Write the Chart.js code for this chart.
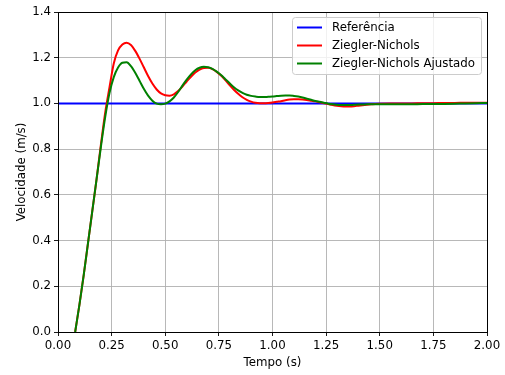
<!DOCTYPE html>
<html>
<head>
<meta charset="utf-8">
<script src="https://cdn.jsdelivr.net/npm/chart.js@4.4.1/dist/chart.umd.min.js"></script>
<style>
  html, body { margin: 0; padding: 0; background: #fff; }
  #wrap { width: 505px; height: 375px; }
</style>
</head>
<body>
<div id="wrap"><canvas id="c" width="505" height="375"></canvas></div>
<script>
// ---- data ----
const tempo = [0.08,0.10,0.12,0.14,0.16,0.18,0.20,0.22,0.24,0.26,0.28,0.30,0.32,0.34,0.36,0.38,0.40,0.42,0.44,0.46,0.48,0.50,0.52,0.54,0.56,0.58,0.60,0.62,0.64,0.66,0.68,0.70,0.72,0.74,0.76,0.78,0.80,0.82,0.84,0.86,0.88,0.90,0.92,0.94,0.96,0.98,1.00,1.02,1.04,1.06,1.08,1.10,1.12,1.14,1.16,1.18,1.20,1.22,1.24,1.26,1.28,1.30,1.32,1.34,1.36,1.38,1.40,1.42,1.44,1.46,1.48,1.50,1.55,1.60,1.65,1.70,1.75,1.80,1.85,1.90,1.95,2.00];
const zieglerNichols = [0.00,0.12,0.25,0.39,0.53,0.67,0.82,0.96,1.07,1.175,1.232,1.258,1.266,1.256,1.230,1.196,1.158,1.120,1.087,1.061,1.044,1.036,1.034,1.040,1.054,1.074,1.096,1.117,1.135,1.148,1.155,1.156,1.150,1.138,1.122,1.102,1.080,1.060,1.042,1.027,1.016,1.008,1.003,1.001,1.001,1.002,1.004,1.007,1.010,1.014,1.017,1.018,1.018,1.017,1.015,1.012,1.009,1.005,1.001,0.997,0.993,0.990,0.988,0.987,0.987,0.988,0.990,0.992,0.994,0.996,0.998,0.999,1.000,1.000,1.000,1.001,1.001,1.002,1.002,1.003,1.003,1.003];
const zieglerNicholsAjustado = [0.00,0.12,0.25,0.39,0.53,0.67,0.81,0.94,1.045,1.115,1.157,1.178,1.180,1.163,1.134,1.099,1.064,1.034,1.012,0.999,0.996,0.999,1.009,1.026,1.050,1.078,1.104,1.127,1.145,1.156,1.160,1.158,1.151,1.139,1.124,1.106,1.088,1.071,1.057,1.046,1.038,1.033,1.030,1.028,1.028,1.029,1.030,1.032,1.034,1.035,1.035,1.033,1.030,1.026,1.021,1.016,1.011,1.007,1.003,0.999,0.996,0.994,0.993,0.993,0.993,0.994,0.995,0.995,0.996,0.996,0.996,0.996,0.996,0.996,0.996,0.997,0.997,0.998,0.999,1.000,1.001,1.002];
const tempoReferencia = [0, 2];
const referencia = [1.0, 1.0];
const labels = ['Referência', 'Ziegler-Nichols', 'Ziegler-Nichols Ajustado'];
const xTicks = [0, 0.25, 0.5, 0.75, 1.0, 1.25, 1.5, 1.75, 2.0];
const yTicks = [0, 0.2, 0.4, 0.6, 0.8, 1.0, 1.2, 1.4];

const pts = (xs, ys) => xs.map((x, i) => ({ x: x, y: ys[i] }));
const FONT = "'DejaVu Sans', sans-serif";
const FS = 11.8;

const framePlugin = {
  id: 'frameLegend',
  afterDatasetsDraw(chart) {
    const ctx = chart.ctx, a = chart.chartArea;
    ctx.save();
    ctx.strokeStyle = '#000';
    ctx.lineWidth = 1;
    ctx.strokeRect(Math.round(a.left) + 0.5, Math.round(a.top) + 0.5,
                   Math.round(a.right) - Math.round(a.left), Math.round(a.bottom) - Math.round(a.top));
    // legend
    const bx = 292.5, by = 17.5, bw = 189, bh = 57, r = 3;
    ctx.beginPath();
    ctx.moveTo(bx + r, by);
    ctx.lineTo(bx + bw - r, by); ctx.quadraticCurveTo(bx + bw, by, bx + bw, by + r);
    ctx.lineTo(bx + bw, by + bh - r); ctx.quadraticCurveTo(bx + bw, by + bh, bx + bw - r, by + bh);
    ctx.lineTo(bx + r, by + bh); ctx.quadraticCurveTo(bx, by + bh, bx, by + bh - r);
    ctx.lineTo(bx, by + r); ctx.quadraticCurveTo(bx, by, bx + r, by);
    ctx.closePath();
    ctx.fillStyle = 'rgba(255,255,255,0.8)';
    ctx.fill();
    ctx.strokeStyle = '#cccccc';
    ctx.stroke();
    ctx.font = FS + 'px ' + FONT;
    ctx.textBaseline = 'middle';
    ctx.textAlign = 'left';
    chart.data.datasets.forEach((ds, i) => {
      const yy = 27.5 + i * 18;
      ctx.strokeStyle = ds.borderColor;
      ctx.lineWidth = 2;
      ctx.beginPath();
      ctx.moveTo(297, yy); ctx.lineTo(322, yy); ctx.stroke();
      ctx.fillStyle = '#000';
      ctx.fillText(ds.label, 332, yy);
    });
    ctx.restore();
  }
};

new Chart(document.getElementById('c'), {
  type: 'line',
  data: {
    datasets: [
      { label: labels[0], data: pts(tempoReferencia, referencia), borderColor: '#0000ff', order: 3 },
      { label: labels[1], data: pts(tempo, zieglerNichols), borderColor: '#ff0000', order: 2 },
      { label: labels[2], data: pts(tempo, zieglerNicholsAjustado), borderColor: '#008000', order: 1 }
    ]
  },
  options: {
    responsive: false,
    animation: false,
    devicePixelRatio: 1,
    layout: { padding: { left: 0, right: 18, top: 12, bottom: 0 } },
    elements: {
      point: { radius: 0, hoverRadius: 0 },
      line: { borderWidth: 2, cubicInterpolationMode: 'monotone', fill: false }
    },
    plugins: { legend: { display: false }, tooltip: { enabled: false } },
    scales: {
      x: {
        type: 'linear', min: 0, max: 2,
        afterBuildTicks(s) { s.ticks = xTicks.map(v => ({ value: v })); },
        afterFit(s) { s.height = 43; },
        border: { display: false },
        grid: { color: '#b0b0b0', lineWidth: 0.9, tickColor: '#000', tickLength: 4, drawTicks: true },
        ticks: { color: '#000', font: { family: FONT, size: FS }, padding: 3, maxRotation: 0,
                 callback: v => Number(v).toFixed(2) },
        title: { display: true, text: 'Tempo (s)', color: '#000', font: { family: FONT, size: FS },
                 padding: { top: 0, bottom: 5 } }
      },
      y: {
        type: 'linear', min: 0, max: 1.4,
        afterBuildTicks(s) { s.ticks = yTicks.map(v => ({ value: v })); },
        afterFit(s) { s.width = 58; },
        border: { display: false },
        grid: { color: '#b0b0b0', lineWidth: 0.9, tickColor: '#000', tickLength: 4, drawTicks: true },
        ticks: { color: '#000', font: { family: FONT, size: FS }, padding: 3,
                 callback: v => Number(v).toFixed(1) },
        title: { display: true, text: 'Velocidade (m/s)', color: '#000', font: { family: FONT, size: FS },
                 padding: { top: 15, bottom: 0 } }
      }
    }
  },
  plugins: [framePlugin]
});
</script>
</body>
</html>
